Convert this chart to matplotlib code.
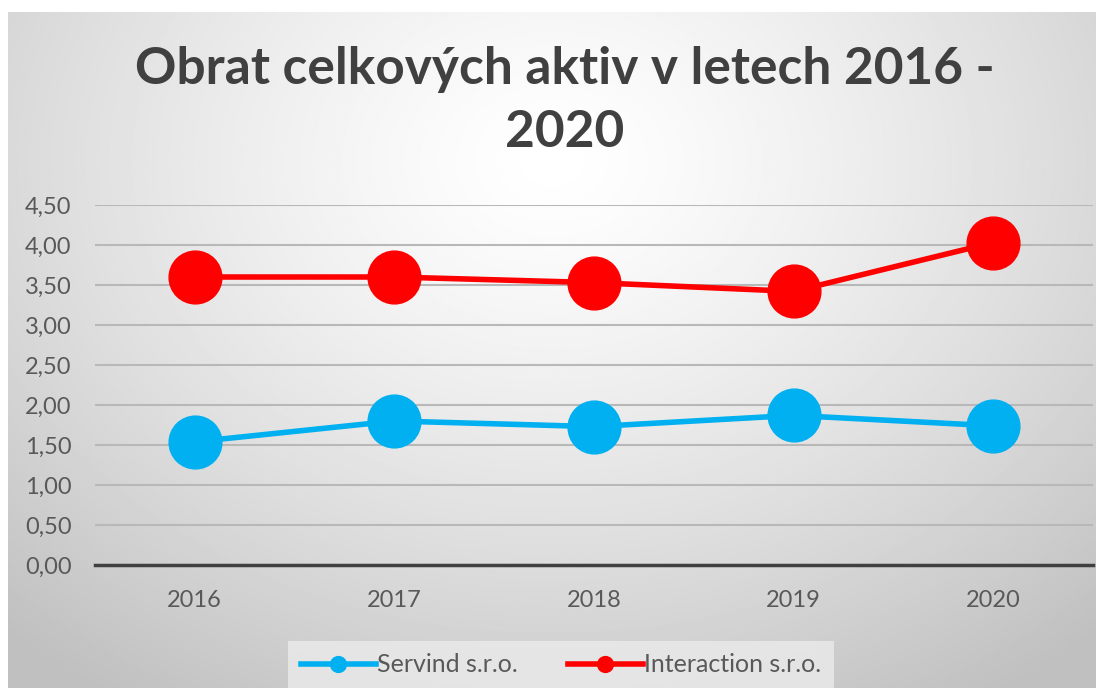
import numpy as np
import matplotlib
matplotlib.use("Agg")
import matplotlib.pyplot as plt
from matplotlib.ticker import FuncFormatter

years = ["2016", "2017", "2018", "2019", "2020"]
servind = [1.54, 1.80, 1.73, 1.87, 1.74]
interaction = [3.60, 3.60, 3.53, 3.42, 4.03]
title = "Obrat celkových aktiv v letech 2016 -\n2020"

plt.rcParams["font.family"] = ["Lato", "DejaVu Sans"]

fig = plt.figure(figsize=(10.96, 6.88), dpi=100)

# radial gradient background
bg = fig.add_axes([8 / 1096, 0, 1 - 8 / 1096, 1 - 12 / 688], zorder=0)
yy, xx = np.mgrid[0:1:400j, 0:1:700j]
r = np.sqrt(((xx - 0.5) / 0.75) ** 2 + ((yy - 0.22) / 0.95) ** 2)
shade = 1.0 - 0.25 * np.clip(r, 0, 1) ** 1.3
bg.imshow(shade, cmap="gray", vmin=0, vmax=1, aspect="auto", extent=[0, 1, 1, 0])
bg.axis("off")

ax = fig.add_axes([95 / 1096, 1 - 565 / 688, 998 / 1096, 360 / 688], zorder=1)
ax.patch.set_alpha(0)
x = np.arange(len(years))
ax.plot(x, servind, color="#00B0F0", lw=4, marker="o", ms=38, zorder=3, label="Servind s.r.o.")
ax.plot(x, interaction, color="#FF0000", lw=4, marker="o", ms=38, zorder=3, label="Interaction s.r.o.")

ax.set_xlim(-0.5, 4.5)
ax.set_ylim(0, 4.5)
ax.set_yticks(np.arange(0, 4.51, 0.5))
ax.yaxis.set_major_formatter(FuncFormatter(lambda v, p: f"{v:.2f}".replace(".", ",")))
ax.set_xticks(x)
ax.set_xticklabels(years)
ax.grid(axis="y", color="#b8b8b8", lw=1.5)
ax.set_axisbelow(True)
for s in ["top", "right", "left"]:
    ax.spines[s].set_visible(False)
ax.spines["bottom"].set_color("#404040")
ax.spines["bottom"].set_linewidth(2.5)
ax.tick_params(length=0, labelsize=17, colors="#595959")
ax.tick_params(axis="x", pad=18)
ax.tick_params(axis="y", pad=17)

fig.text(0.515, 1 - 101 / 688, title, ha="center", va="center", fontsize=37,
         fontweight="bold", color="#404040", linespacing=1.4)

leg = fig.legend(loc="lower center", bbox_to_anchor=(0.512, -0.012), ncol=2, fontsize=18,
                 frameon=True, fancybox=False, handlelength=3.0, markerscale=0.3,
                 columnspacing=2.0, handletextpad=0.05, borderpad=0.5, borderaxespad=0.3)
leg.get_frame().set_facecolor("#ebebeb")
leg.get_frame().set_edgecolor("none")
for t in leg.get_texts():
    t.set_color("#595959")

fig.savefig("out.png", dpi=100, facecolor="white")
